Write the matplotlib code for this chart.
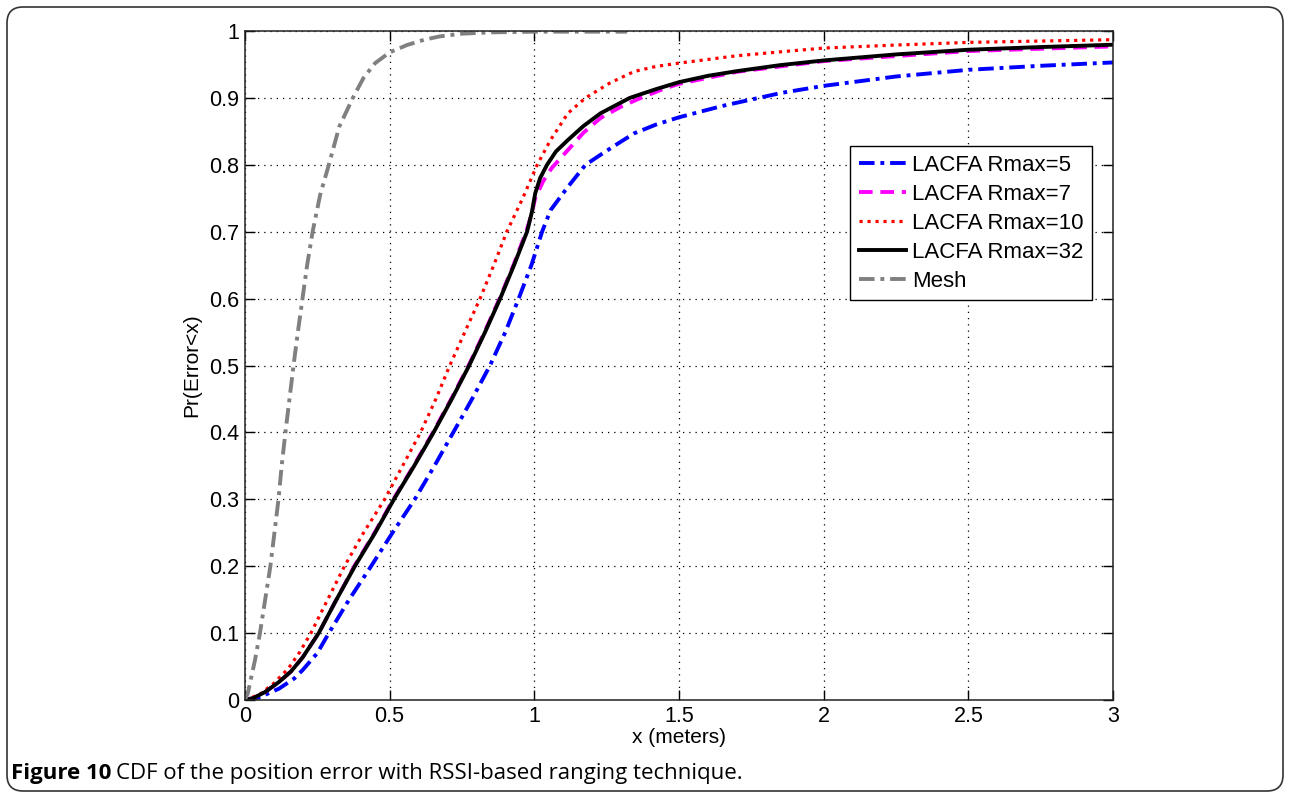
import matplotlib
matplotlib.use("Agg")
import matplotlib.pyplot as plt
from matplotlib.patches import FancyBboxPatch
from matplotlib.transforms import IdentityTransform

plt.rcParams['font.family'] = ['Liberation Sans', 'DejaVu Sans']

# CDF curves
x_r5 = [0, 0.05, 0.118, 0.17, 0.2, 0.25, 0.29, 0.36, 0.436, 0.51, 0.587, 0.655,
        0.72, 0.785, 0.847, 0.9, 0.946, 0.99, 1.027, 1.056, 1.116, 1.177, 1.229,
        1.29, 1.345, 1.42, 1.5, 1.65, 1.854, 2.0, 2.25, 2.5, 2.75, 3.0]
y_r5 = [0, 0.004, 0.017, 0.032, 0.045, 0.07, 0.1, 0.15, 0.2, 0.25, 0.3, 0.35,
        0.4, 0.45, 0.5, 0.55, 0.6, 0.65, 0.7, 0.732, 0.767, 0.8, 0.815,
        0.832, 0.847, 0.86, 0.871, 0.888, 0.9075, 0.918, 0.932, 0.942, 0.948, 0.953]

x_r7 = [0, 0.03, 0.07, 0.118, 0.16, 0.2, 0.255, 0.31, 0.378, 0.448, 0.513, 0.583,
        0.65, 0.713, 0.773, 0.828, 0.88, 0.928, 0.972, 0.99, 1.003, 1.03, 1.06,
        1.116, 1.17, 1.229, 1.3, 1.368, 1.45, 1.5, 1.7, 2.0, 2.5, 3.0]
y_r7 = [0, 0.003, 0.012, 0.027, 0.043, 0.064, 0.1, 0.145, 0.2, 0.25, 0.3, 0.35,
        0.4, 0.45, 0.5, 0.55, 0.6, 0.65, 0.7, 0.725, 0.75, 0.775, 0.795,
        0.822, 0.848, 0.87, 0.887, 0.9, 0.914, 0.921, 0.939, 0.955, 0.970, 0.977]

x_r10 = [0, 0.05, 0.1, 0.15, 0.19, 0.228, 0.28, 0.344, 0.41, 0.483, 0.545, 0.607,
         0.66, 0.708, 0.76, 0.8125, 0.86, 0.905, 0.96, 1.01, 1.056, 1.116, 1.177,
         1.26, 1.345, 1.42, 1.5, 1.7, 1.854, 2.0, 2.25, 2.5, 2.75, 3.0]
y_r10 = [0, 0.008, 0.025, 0.047, 0.072, 0.1, 0.145, 0.2, 0.25, 0.3, 0.35, 0.4,
         0.45, 0.5, 0.55, 0.6, 0.65, 0.7, 0.75, 0.8, 0.837, 0.877, 0.9,
         0.922, 0.9395, 0.947, 0.952, 0.963, 0.969, 0.9745, 0.979, 0.983, 0.985, 0.987]

x_r32 = [0, 0.03, 0.07, 0.118, 0.16, 0.2, 0.255, 0.31, 0.38, 0.45, 0.515, 0.585,
         0.652, 0.715, 0.775, 0.83, 0.882, 0.93, 0.975, 0.992, 1.003, 1.02, 1.044,
         1.075, 1.116, 1.17, 1.229, 1.33, 1.42, 1.5, 1.6, 1.7, 1.85, 2.0, 2.25,
         2.5, 2.75, 3.0]
y_r32 = [0, 0.003, 0.012, 0.027, 0.043, 0.064, 0.1, 0.145, 0.2, 0.25, 0.3, 0.35,
         0.4, 0.45, 0.5, 0.55, 0.6, 0.65, 0.7, 0.73, 0.757, 0.78, 0.8,
         0.82, 0.837, 0.858, 0.877, 0.9, 0.913, 0.9235, 0.933, 0.94, 0.949, 0.956, 0.965,
         0.972, 0.976, 0.9795]

x_mesh = [0, 0.01, 0.02, 0.035, 0.052, 0.07, 0.088, 0.102, 0.116, 0.127, 0.14,
          0.154, 0.168, 0.183, 0.199, 0.215, 0.234, 0.26, 0.29, 0.326, 0.373,
          0.41, 0.45, 0.5, 0.56, 0.62, 0.674, 0.75, 0.85, 1.0, 1.32]
y_mesh = [0, 0.01, 0.03, 0.06, 0.1, 0.15, 0.2, 0.25, 0.3, 0.35, 0.4,
          0.45, 0.5, 0.55, 0.6, 0.65, 0.7, 0.755, 0.8, 0.857, 0.9,
          0.93, 0.952, 0.968, 0.979, 0.987, 0.992, 0.996, 0.998, 0.999, 0.999]

labels = ['LACFA Rmax=5', 'LACFA Rmax=7', 'LACFA Rmax=10', 'LACFA Rmax=32', 'Mesh']
xticks = [0, 0.5, 1, 1.5, 2, 2.5, 3]
xtick_labels = ['0', '0.5', '1', '1.5', '2', '2.5', '3']
yticks = [i / 10 for i in range(11)]
ytick_labels = ['0', '0.1', '0.2', '0.3', '0.4', '0.5', '0.6', '0.7', '0.8', '0.9', '1']

fig = plt.figure(figsize=(12.89, 7.95), dpi=100)
fig.patch.set_facecolor('white')

# rounded frame around the whole figure
frame = FancyBboxPatch((7, 4), 1276, 784, boxstyle="round,pad=0,rounding_size=16",
                       transform=IdentityTransform(), facecolor='none',
                       edgecolor='#333333', linewidth=1.2)
fig.patches.append(frame)

ax = fig.add_axes([0.190, 0.1195, 0.6735, 0.8415])

ax.plot(x_r5, y_r5, color='blue', linestyle=(0, (4, 1.5, 1, 1.5)), linewidth=2.8, label=labels[0])
ax.plot(x_r7, y_r7, color='magenta', linestyle=(0, (3.5, 2)), linewidth=2.8, label=labels[1])
ax.plot(x_r10, y_r10, color='red', linestyle=(0, (1, 1.5)), linewidth=2.3, label=labels[2])
ax.plot(x_r32, y_r32, color='black', linestyle='-', linewidth=2.8, label=labels[3])
ax.plot(x_mesh, y_mesh, color='#808080', linestyle=(0, (4, 1.5, 1, 1.5)), linewidth=2.8, label=labels[4])

ax.set_xlim(0, 3)
ax.set_ylim(0, 1)
ax.set_xticks(xticks)
ax.set_xticklabels(xtick_labels)
ax.set_yticks(yticks)
ax.set_yticklabels(ytick_labels)
ax.tick_params(direction='in', length=7, width=1, top=True, right=True,
               labelsize=15.5, pad=4)
ax.grid(True, color='black', linestyle=(0, (1, 4)), linewidth=0.9)
for s in ax.spines.values():
    s.set_linewidth(1.1)
    s.set_color('#222222')

ax.set_xlabel('x (meters)', fontsize=15, labelpad=1)
ax.set_ylabel('Pr(Error<x)', fontsize=15, labelpad=6)

leg = ax.legend(loc='upper right', bbox_to_anchor=(0.976, 0.828), borderaxespad=0,
                fancybox=False, edgecolor='black', fontsize=16, handlelength=2.1,
                handletextpad=0.3, labelspacing=0.36, borderpad=0.38, framealpha=1)
leg.get_frame().set_linewidth(1.0)

# caption
fig.text(11 / 1289, 1 - 773 / 795, 'Figure 10', fontsize=16, fontweight='bold',
         family='Open Sans', va='center', ha='left')
fig.text(116 / 1289, 1 - 773 / 795, 'CDF of the position error with RSSI-based ranging technique.',
         fontsize=16, family='Open Sans', va='center', ha='left')

fig.savefig('out.png', dpi=100)
